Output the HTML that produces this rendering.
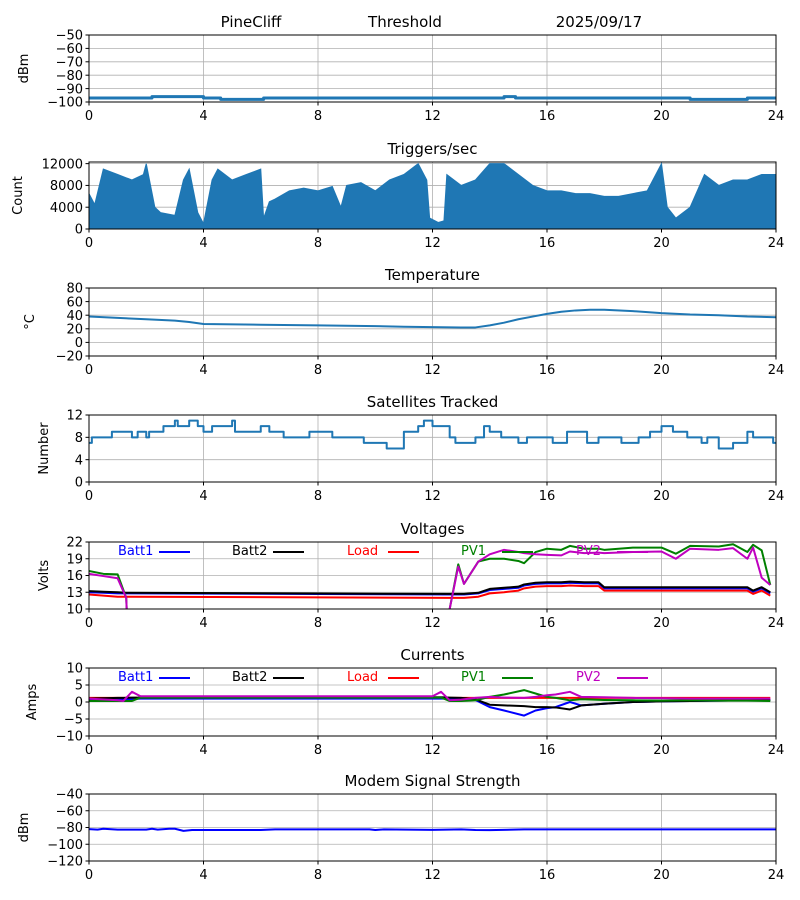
<!DOCTYPE html>
<html><head><meta charset="utf-8">
<style>
body{margin:0;background:#fff;}
svg{display:block;font-family:"DejaVu Sans","Liberation Sans",sans-serif;}
</style></head>
<body>
<svg id="chart" width="800" height="900" viewBox="0 0 800 900" xmlns="http://www.w3.org/2000/svg">
<text x="251" y="27" font-size="15" text-anchor="middle">PineCliff</text>
<text x="405" y="27" font-size="15" text-anchor="middle">Threshold</text>
<text x="599" y="27" font-size="15" text-anchor="middle">2025/09/17</text>
</svg>
<script>
// ---------- data ----------
const xTicks = [0,4,8,12,16,20,24];
const thrT = [0,2.2,4.0,4.6,6.1,14.3,14.5,14.9,21.0,23.0,24];
const thrV = [-97,-96,-97,-98,-97,-97,-96,-97,-98,-97,-97];
const trigT = [0,0.2,0.5,1,1.5,1.9,2,2.3,2.5,3,3.3,3.5,3.8,4,4.3,4.5,5,5.5,6,6.1,6.3,6.5,7,7.5,8,8.5,8.8,9,9.5,10,10.5,11,11.5,11.8,11.9,12.2,12.4,12.5,13,13.5,14,14.5,15,15.5,16,16.5,17,17.5,18,18.5,19,19.5,20,20.2,20.5,21,21.5,22,22.5,23,23.5,24];
const trigV = [6500,4500,11000,10000,9000,10000,12000,4000,3000,2500,9000,11000,3000,1000,9000,11000,9000,10000,11000,2000,5000,5500,7000,7500,7000,7800,4000,8000,8500,7000,9000,10000,12000,9000,2000,1200,1500,10000,8000,9000,12000,12000,10000,8000,7000,7000,6500,6500,6000,6000,6500,7000,12000,4000,2000,4000,10000,8000,9000,9000,10000,10000];
const tempT = [0,1,2,3,3.5,4,6,8,10,11,13,13.5,14,14.5,15,15.5,16,16.5,17,17.5,18,19,20,21,22,23,24];
const tempV = [38,36,34,32,30,27,26,25,24,23,22,22,25,29,34,38,42,45,47,48,48,46,43,41,40,38,37];
const satT = [0,0.1,0.8,1.5,1.7,2,2.1,2.6,3,3.1,3.5,3.8,4,4.3,5,5.1,6,6.3,6.8,7.7,8.5,9.6,10.4,11,11.5,11.7,12,12.6,12.8,13.5,13.8,14,14.4,15,15.3,16.2,16.7,17.4,17.8,18.6,19.2,19.6,20,20.4,20.9,21.4,21.6,22,22.5,23,23.2,23.9,24];
const satV = [7,8,9,8,9,8,9,10,11,10,11,10,9,10,11,9,10,9,8,9,8,7,6,9,10,11,10,8,7,8,10,9,8,7,8,7,9,7,8,7,8,9,10,9,8,7,8,6,7,9,8,7,7];
const vT = [0,0.5,1,1.3,1.4,12.5,12.6,12.9,13.1,13.6,14,14.5,15,15.2,15.6,16,16.5,16.8,17.3,17.8,18,19,20,20.5,21,22,22.5,23,23.2,23.5,23.8];
const vBatt1 = [13.0,12.9,12.8,12.8,12.8,12.6,12.6,12.6,12.6,12.8,13.4,13.6,13.8,14.2,14.5,14.6,14.6,14.7,14.6,14.6,13.7,13.7,13.7,13.7,13.7,13.7,13.7,13.7,13.1,13.7,12.8];
const vBatt2 = [13.2,13.1,13.0,12.9,12.9,12.7,12.7,12.7,12.7,12.9,13.6,13.8,14.0,14.4,14.7,14.8,14.8,14.9,14.8,14.8,13.9,13.9,13.9,13.9,13.9,13.9,13.9,13.9,13.3,13.9,13.0];
const vLoad = [12.6,12.4,12.2,12.2,12.2,12.0,12.0,12.0,12.0,12.2,12.8,13.0,13.3,13.7,14.0,14.1,14.1,14.2,14.1,14.1,13.3,13.3,13.3,13.3,13.3,13.3,13.3,13.3,12.7,13.3,12.4];
const vPV1 = [16.8,16.3,16.2,12,0,0,10,18,14.5,18.5,19,19,18.6,18.2,20.2,20.8,20.6,21.3,20.8,20.8,20.6,21.0,21.0,19.9,21.3,21.2,21.6,20.2,21.5,20.5,14.3];
const vPV2 = [16.3,15.9,15.5,12,0,0,10,17.6,14.5,18.5,19.8,20.6,20.2,20.0,19.8,19.7,19.6,20.3,20.0,20.1,20.0,20.2,20.3,19.0,20.8,20.6,20.9,19.0,21.0,15.6,14.3];
const cT = [0,1,1.2,1.5,1.8,12,12.3,12.6,13,13.5,14,14.5,15.2,15.6,16,16.3,16.8,17.2,18,19,20,21,22,23,23.8];
const cBatt1 = [0.8,0.8,0.8,0.9,1.0,1.0,1.0,1.0,0.8,0.6,-1.5,-2.5,-4.0,-2.5,-1.8,-1.5,0,-1.0,-0.5,0,0.2,0.3,0.4,0.5,0.5];
const cBatt2 = [1.0,1.2,1.2,1.3,1.3,1.4,1.4,1.3,1.2,0.8,-0.8,-1.0,-1.2,-1.5,-1.5,-1.6,-2.2,-1.0,-0.5,0,0.2,0.3,0.4,0.5,0.6];
const cLoad = [1.2,1.2,1.2,1.2,1.2,1.2,1.2,1.2,1.2,1.2,1.2,1.2,1.2,1.2,1.2,1.2,1.2,1.2,1.2,1.2,1.2,1.2,1.2,1.2,1.2];
const cPV1 = [0.3,0.3,0.3,0.3,1.3,1.3,1.3,0.3,0.3,0.5,1.5,2.2,3.5,2.5,1.5,1.2,0.5,0.8,0.6,0.5,0.4,0.5,0.4,0.4,0.3];
const cPV2 = [1.0,0.5,0.3,3.0,1.7,1.7,3.0,0.5,0.7,1.2,1.5,1.3,1.2,1.5,2.0,2.2,3.0,1.5,1.4,1.2,1.1,1.0,1.0,1.0,1.0];
const modT = [0,0.3,0.5,1,2,2.2,2.4,2.8,3.0,3.3,3.6,6,6.5,9.8,10,10.3,12,13,13.5,14,15.2,24];
const modV = [-82,-82.5,-81.5,-82.5,-82.5,-81.5,-82.5,-81.5,-81.5,-84,-83,-83,-82.3,-82.3,-83,-82.3,-82.8,-82.3,-83,-83.2,-82.3,-82.3];
const legendNames = ["Batt1","Batt2","Load","PV1","PV2"];
const legendColors = ["#0000ff","#000000","#ff0000","#008000","#bf00bf"];

// ---------- drawing ----------
const NS="http://www.w3.org/2000/svg";
const svg=document.getElementById('chart');
const X0=89,X1=776;
const xs=t=>X0+(t/24)*(X1-X0);
function el(tag,attrs,parent){const e=document.createElementNS(NS,tag);for(const k in attrs)e.setAttribute(k,attrs[k]);(parent||svg).appendChild(e);return e;}
function fmt(v){return v<0?"\u2212"+(-v):String(v);}

function panel(name,title,ylabel,ylabX,top,bot,ymin,ymax,yticks){
  const g=el('g',{});
  
  
  const ys=v=>bot-(v-ymin)/(ymax-ymin)*(bot-top);
  const clipId='clip-'+name;
  const cp=el('clipPath',{id:clipId},g);el('rect',{x:X0,y:top,width:X1-X0,height:bot-top},cp);
  const grid=el('g',{stroke:'#b0b0b0','stroke-width':0.8},g);
  
  
  xTicks.forEach(t=>el('line',{x1:xs(t),x2:xs(t),y1:top,y2:bot},grid));
  yticks.forEach(v=>el('line',{x1:X0,x2:X1,y1:ys(v),y2:ys(v)},grid));
  const xa=el('g',{},g);
  
  
  xTicks.forEach(t=>{el('line',{x1:xs(t),x2:xs(t),y1:bot,y2:bot+3.5,stroke:'#000'},xa);
    const tx=el('text',{x:xs(t),y:bot+18,'font-size':13,'text-anchor':'middle'},xa);tx.textContent=t;});
  const ya=el('g',{},g);
  
  
  yticks.forEach(v=>{el('line',{x1:X0-3.5,x2:X0,y1:ys(v),y2:ys(v),stroke:'#000'},ya);
    const tx=el('text',{x:X0-6,y:ys(v)+4.7,'font-size':13,'text-anchor':'end'},ya);tx.textContent=fmt(v);});
  const tt=el('text',{x:(X0+X1)/2,y:top-8,'font-size':15,'text-anchor':'middle'},g);tt.textContent=title;
  
  
  const cy=(top+bot)/2;
  const yl=el('text',{x:ylabX,y:cy,'font-size':13,'text-anchor':'middle',transform:`rotate(-90 ${ylabX} ${cy})`},g);yl.textContent=ylabel;
  
  
  const plot=el('g',{'clip-path':`url(#${clipId})`},g);
  return {g,plot,ys,top,bot,frame:()=>el('rect',{x:X0,y:top,width:X1-X0,height:bot-top,fill:'none',stroke:'#000','stroke-width':1},g)};
}
function line(p,T,V,color,w,name,step){
  let d='';
  T.forEach((t,i)=>{const x=xs(t),y=p.ys(V[i]);
    if(i===0)d+=`M${x},${y}`;else if(step)d+=`H${x}V${y}`;else d+=`L${x},${y}`;});
  const e=el('path',{d,fill:'none',stroke:color,'stroke-width':w,'stroke-linejoin':'round'},p.plot);
  
  
}
function legend(p,prefix){
  const lx=[118,232,347,461,576];
  legendNames.forEach((n,i)=>{
    const lg=el('g',{},p.g);
    
    
    const t=el('text',{x:lx[i],y:p.top+13,'font-size':13,fill:legendColors[i]},lg);t.textContent=n;
    el('line',{x1:lx[i]+41,x2:lx[i]+72,y1:p.top+10,y2:p.top+10,stroke:legendColors[i],'stroke-width':2},lg);
  });
}
const C='#1f77b4';
let p;
p=panel('threshold','','dBm',28,35,102,-100,-50,[-100,-90,-80,-70,-60,-50]);
line(p,thrT,thrV,C,3,'threshold-line',true);p.frame();

p=panel('triggers','Triggers/sec','Count',22,162,229,0,12300,[0,4000,8000,12000]);
{let d=`M${xs(trigT[0])},${p.ys(0)}`;trigT.forEach((t,i)=>d+=`L${xs(t)},${p.ys(trigV[i])}`);d+=`L${xs(trigT[trigT.length-1])},${p.ys(0)}Z`;
 const a=el('path',{d,fill:C,stroke:C,'stroke-width':1},p.plot);
 
 }
p.frame();

p=panel('temperature','Temperature','\u00B0C',34,288,356,-20,80,[-20,0,20,40,60,80]);
line(p,tempT,tempV,C,2,'temperature-line',false);p.frame();

p=panel('satellites','Satellites Tracked','Number',48,415,482,0,12,[0,4,8,12]);
line(p,satT,satV,C,2,'satellites-line',true);p.frame();

p=panel('voltages','Voltages','Volts',48,542,609,10,22,[10,13,16,19,22]);
line(p,vT,vBatt1,'#0000ff',2,'voltage-batt1-line');
line(p,vT,vLoad,'#ff0000',2,'voltage-load-line');
line(p,vT,vBatt2,'#000000',2,'voltage-batt2-line');
line(p,vT,vPV1,'#008000',2,'voltage-pv1-line');
line(p,vT,vPV2,'#bf00bf',2,'voltage-pv2-line');
legend(p,'voltages');p.frame();

p=panel('currents','Currents','Amps',36,668,736,-10,10,[-10,-5,0,5,10]);
line(p,cT,cLoad,'#ff0000',2,'current-load-line');
line(p,cT,cBatt1,'#0000ff',2,'current-batt1-line');
line(p,cT,cBatt2,'#000000',2,'current-batt2-line');
line(p,cT,cPV1,'#008000',2,'current-pv1-line');
line(p,cT,cPV2,'#bf00bf',2,'current-pv2-line');
legend(p,'currents');p.frame();

p=panel('modem','Modem Signal Strength','dBm',28,794,861,-120,-40,[-120,-100,-80,-60,-40]);
line(p,modT,modV,'#0000ff',2,'modem-signal-line');p.frame();
</script>
</body></html>
